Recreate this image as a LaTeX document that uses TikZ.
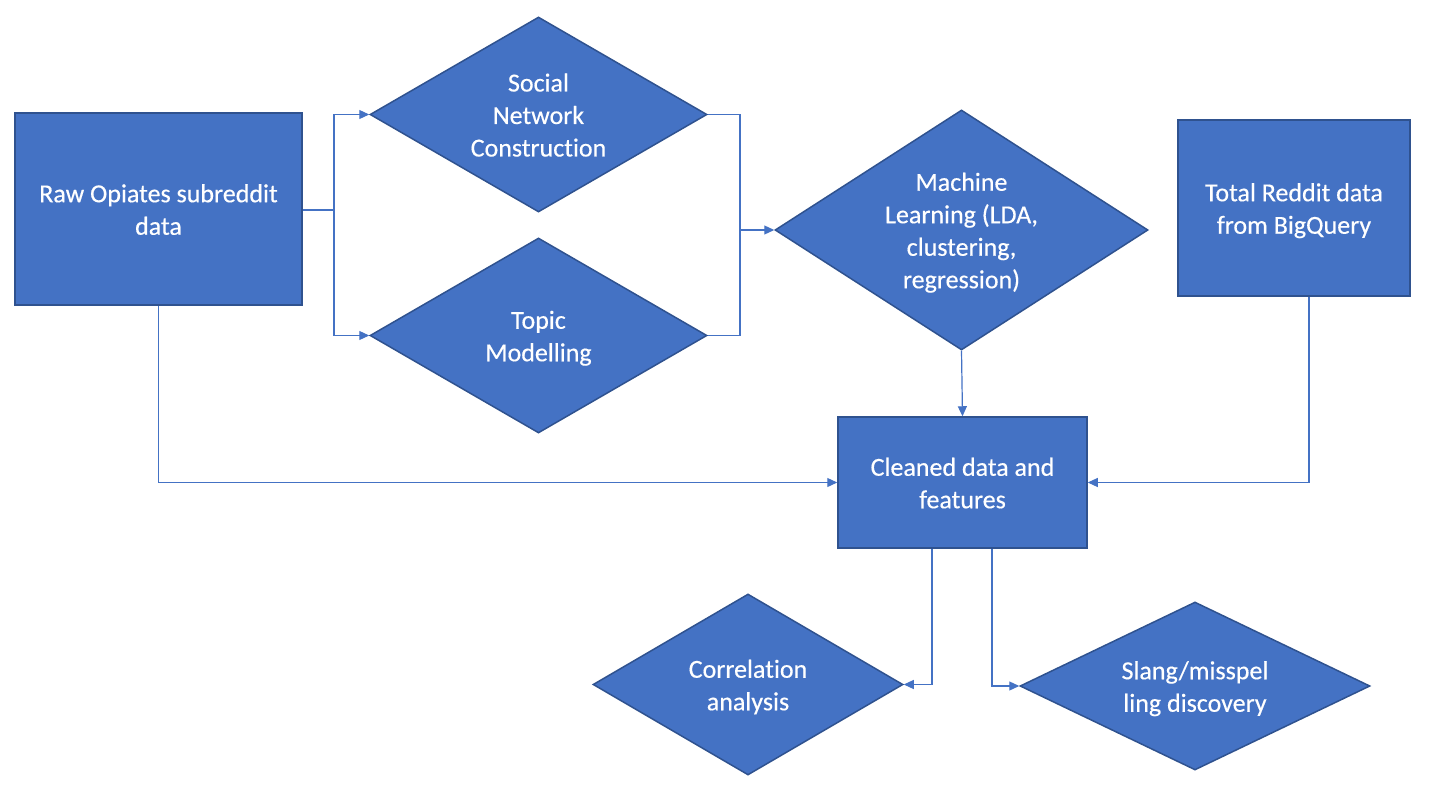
\documentclass[tikz,border=0pt]{standalone}
\usepackage{fontspec}
\setmainfont{Carlito}[Ligatures=NoCommon,FakeBold=0.4]
\usetikzlibrary{shapes.geometric,arrows.meta}
\definecolor{fillblue}{HTML}{4472C4}
\definecolor{edgeblue}{HTML}{2F528F}
\newcommand\ctrtext[1]{\vbox to 0pt{\kern6pt\vss\hbox to 0pt{\hss\begin{tabular}{@{}c@{}}#1\end{tabular}\hss}\vss}}
\tikzset{
  base/.style={fill=fillblue, draw=edgeblue, line width=1.5pt, text=white,
    font=\fontsize{26}{32.5}\selectfont, inner sep=0pt},
  box/.style={base, rectangle},
  dia/.style={base, diamond},
  conn/.style={draw=fillblue, line width=1.2pt, -{Triangle[length=10pt,width=9pt]}},
  plain/.style={draw=fillblue, line width=1.2pt},
}
\begin{document}
\begin{tikzpicture}[x=1pt,y=-1pt]
\useasboundingbox (0,0) rectangle (1440,810);
\node[box, minimum width=287pt, minimum height=192pt] (raw) at (158.5,209) {\ctrtext{Raw Opiates subreddit\\data}};
\node[box, minimum width=232pt, minimum height=176pt] (total) at (1294,208) {\ctrtext{Total Reddit data\\from BigQuery}};
\node[box, minimum width=249pt, minimum height=131pt] (clean) at (962.5,482.5) {\ctrtext{Cleaned data and\\features}};
\node[dia, minimum width=337pt, minimum height=195pt] (sn) at (538.5,114.5) {\ctrtext{Social\\Network\\Construction}};
\node[dia, minimum width=337pt, minimum height=195pt] (tm) at (538.5,335.5) {\ctrtext{Topic\\Modelling}};
\node[dia, minimum width=373pt, minimum height=240pt] (ml) at (961.5,230) {\ctrtext{Machine\\Learning (LDA,\\clustering,\\regression)}};
\node[dia, minimum width=310pt, minimum height=181pt] (corr) at (748,684.5) {\ctrtext{Correlation\\analysis}};
\node[dia, minimum width=350pt, minimum height=168pt] (slang) at (1195,686) {\ctrtext{Slang/misspel\\ling discovery}};

\coordinate (j1) at (334,210);
\coordinate (j2) at (740,230);
\draw[plain] (raw.east |- j1) -- (j1);
\draw[conn] (j1) |- (sn.west);
\draw[conn] (j1) |- (tm.west);
\draw[plain] (sn.east) -| (j2);
\draw[plain] (tm.east) -| (j2);
\draw[conn] (j2) -- (ml.west);
\draw[conn] (ml.south) -- (clean.north);
\draw[conn] (raw.south) |- (clean.west);
\draw[conn] (total.south -| 1309,0) |- (clean.east);
\draw[conn] (clean.south -| 932,0) |- (corr.east);
\draw[conn] (clean.south -| 992,0) |- (slang.west);
\end{tikzpicture}
\end{document}
